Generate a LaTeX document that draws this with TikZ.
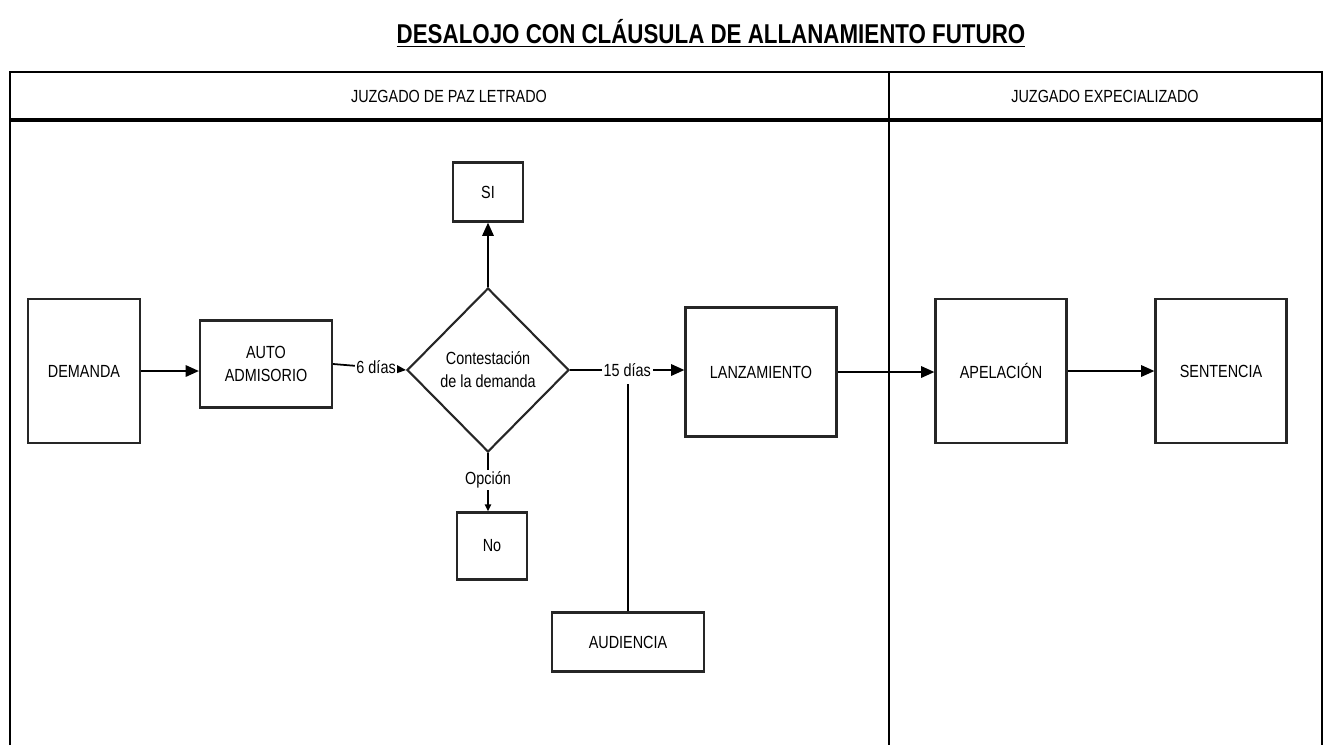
\documentclass[tikz,border=0pt]{standalone}
\usepackage{fontspec}
\setmainfont{Liberation Sans}[FakeStretch=0.82]
\usetikzlibrary{arrows.meta,shapes.geometric}
\tikzset{
    %Define standard arrow tip
    >={Triangle[length=7.5pt,width=6.5pt]},
    %Define style for boxes
    caja/.style={
           rectangle,
           draw=black!85, line width=1.3pt,
           inner sep=0pt,
           align=center},
    rombo/.style={
           diamond,
           draw=black!85, line width=1.2pt,
           inner sep=0pt,
           minimum width=3.24cm,
           minimum height=3.28cm,
           align=center},
    % Define arrow style
    flecha/.style={
           ->,
           line width=1pt},
    etiq/.style={fill=white, inner sep=1pt}
}

\begin{document}
\begin{tikzpicture}[x=0.02cm,y=-0.02cm,font=\fontsize{10}{13}\selectfont]
\useasboundingbox (0,0) rectangle (1327,745);

 %title
\node (titulo) at (711,33) {\fontsize{15.5}{18}\selectfont\bfseries\underline{DESALOJO CON CLÁUSULA DE ALLANAMIENTO FUTURO}};

 %lanes
\draw[line width=1.3pt] (10,745) -- (10,72) -- (1322,72) -- (1322,745);
\draw[line width=1.8pt] (10,120) -- (1322,120);
\draw[line width=1.3pt] (889,72) -- (889,745);
\node (paz) at (449,96) {JUZGADO DE PAZ LETRADO};
\node (espec) at (1105,96) {JUZGADO EXPECIALIZADO};

 %nodes
\node[caja, minimum width=2.24cm, minimum height=2.88cm] (demanda) at (84,371) {DEMANDA};
\node[caja, minimum width=2.64cm, minimum height=1.74cm] (auto) at (266,364) {AUTO\\ADMISORIO};
\node[rombo] (contest) at (488,370) {Contestación\\de la demanda};
\node[caja, minimum width=1.4cm, minimum height=1.18cm] (si) at (488,192) {SI};
\node[caja, minimum width=1.4cm, minimum height=1.34cm] (no) at (492,546) {No};
\node[caja, minimum width=3.04cm, minimum height=1.18cm] (audiencia) at (628,642) {AUDIENCIA};
\node[caja, minimum width=3.02cm, minimum height=2.58cm] (lanza) at (761,372) {LANZAMIENTO};
\node[caja, minimum width=2.62cm, minimum height=2.88cm] (apela) at (1001,371) {APELACIÓN};
\node[caja, minimum width=2.62cm, minimum height=2.88cm] (senten) at (1221,371) {SENTENCIA};
\coordinate (aud top) at (628,384);

 \path[flecha]
    (demanda.east) edge (demanda.east -| auto.west)
    (auto.east) edge node[etiq, pos=0.59] {6 días} (contest.west)
    (contest.north) edge (si.south)
    (contest.east) edge node[etiq] {15 días} (contest.east -| lanza.west)
    (lanza.east) edge (lanza.east -| apela.west)
    (apela.east) edge (senten.west);
 \path[flecha, >={Triangle[length=4pt,width=3.5pt]}]
    (contest.south) edge node[etiq, pos=0.46] {Opción} (contest.south |- no.north);
 \draw[line width=1pt] (audiencia.north) -- (aud top);

\end{tikzpicture}
\end{document}
